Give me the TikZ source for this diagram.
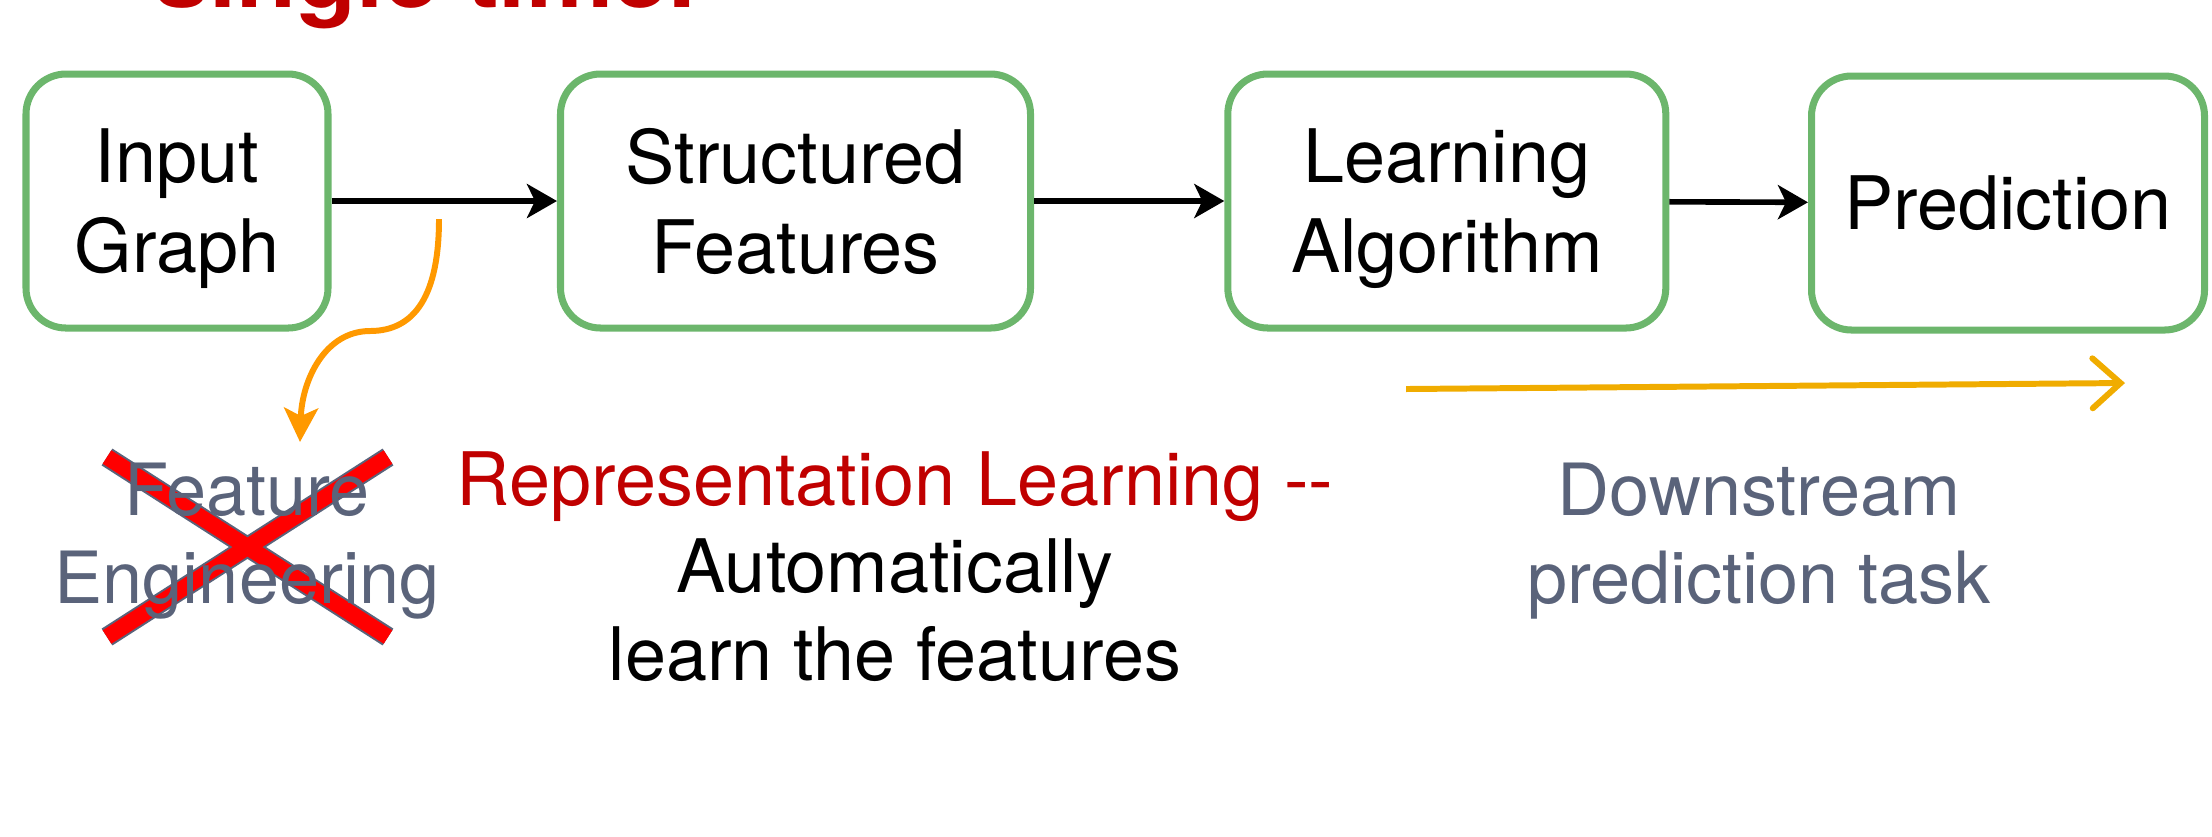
\documentclass[tikz,border=0pt]{standalone}
\usepackage{fontspec}
\setmainfont{TeX Gyre Heros}
\usetikzlibrary{arrows.meta}

\definecolor{boxgreen}{RGB}{108,182,108}
\definecolor{pptred}{RGB}{192,0,0}
\definecolor{slategray}{RGB}{90,99,122}
\definecolor{curveorange}{RGB}{255,153,0}
\definecolor{taskyellow}{RGB}{240,172,0}

\begin{document}
\begin{tikzpicture}[
        stage/.style={draw=boxgreen,line width=2pt,rounded corners=0.4cm,align=center,
            inner sep=0pt,text depth=0pt,minimum height=2.54cm,font=\fontsize{21}{25.6}\selectfont},
        flow/.style={-{Stealth[length=0.3cm,width=0.34cm,inset=0.08cm]},line width=1.6pt},
        note/.style={align=center,anchor=base,font=\fontsize{20.5}{24.8}\selectfont},
        crossedge/.style={draw=slategray,line width=0.2cm},
        crossfill/.style={draw=red,line width=0.16cm}
    ]
        \clip (0,0) rectangle (22.12,-8.36);

        % title of the slide, cut at the top
        \node[anchor=base west,text=pptred,font=\bfseries\fontsize{28}{30}\selectfont] (title)
            at (1.42,-0.07) {single time.};

        % pipeline
        \node[stage,minimum width=3.02cm] (input) at (1.77,-2.01) {Input\\Graph};
        \node[stage,minimum width=4.70cm] (feat) at (7.955,-2.01) {Structured\\Features};
        \node[stage,minimum width=4.38cm] (algo) at (14.468,-2.01) {Learning\\Algorithm};
        \node[stage,minimum width=3.93cm] (pred) at (20.08,-2.03) {Prediction};

        \draw[flow] (input) -- (feat);
        \draw[flow] (feat) -- (algo);
        \draw[flow] (algo) -- (pred);

        % crossed out feature engineering
        \draw[crossedge] (1.07,-4.57) -- (3.88,-6.37) (3.88,-4.57) -- (1.07,-6.37);
        \draw[crossfill] (1.07,-4.57) -- (3.88,-6.37) (3.88,-4.57) -- (1.07,-6.37);

        \coordinate (cstart) at (4.39,-2.19);
        \coordinate (cbend) at (3.70,-3.31);
        \coordinate (cend) at (3.00,-4.42);
        \draw[curveorange,line width=1.7pt,-{Stealth[length=0.34cm,width=0.34cm,inset=0.08cm]}]
            (cstart) .. controls (4.39,-2.95) and (4.15,-3.31) .. (cbend)
            .. controls (3.25,-3.31) and (3.02,-3.8) .. (cend);

        % base anchor sits on the last line
        \node[note,text=slategray] (feateng) at (2.47,-6.03) {Feature\\Engineering};
        \node[note,font=\fontsize{21}{24.8}\selectfont] (reprtext) at (8.95,-6.80)
            {\textcolor{pptred}{Representation Learning -{}-}\\Automatically\\learn the features};
        \node[note,text=slategray] (downstream) at (17.59,-6.03) {Downstream\\prediction task};

        % downstream task arrow
        \coordinate (tstart) at (14.06,-3.89);
        \coordinate (tend) at (21.25,-3.83);
        \draw[taskyellow,line width=1.7pt,-{Straight Barb[length=0.28cm,width=0.5cm,line cap=round]}]
            (tstart) -- (tend);
    \end{tikzpicture}
\end{document}
